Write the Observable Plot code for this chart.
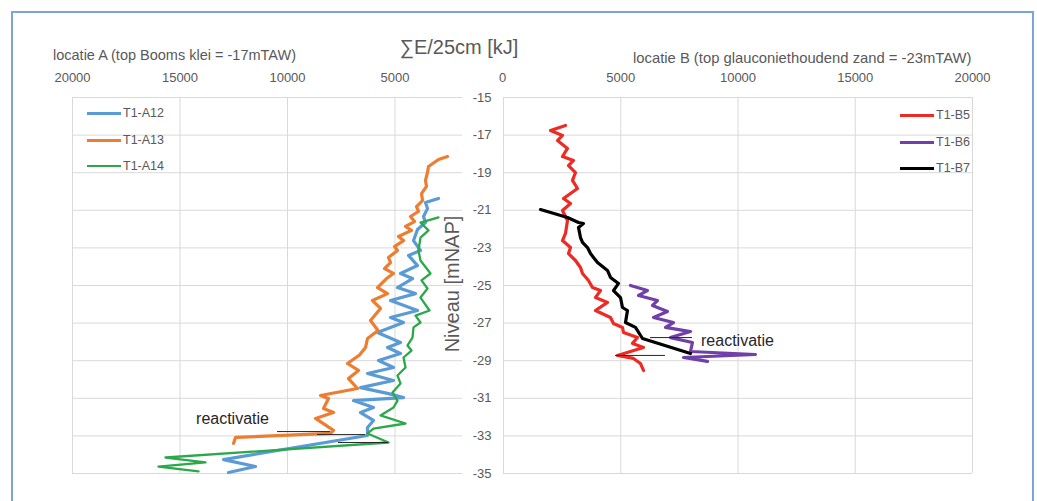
<!DOCTYPE html>
<html><head><meta charset="utf-8">
<script src="https://cdn.jsdelivr.net/npm/d3@7"></script>
<script src="https://cdn.jsdelivr.net/npm/@observablehq/plot@0.6"></script>
<style>
body{margin:0;background:#fff;font-family:"Liberation Sans",Arial,sans-serif;}
#wrap{position:relative;width:1037px;height:501px;overflow:hidden;background:#fff}
#frame{position:absolute;left:11px;top:11px;width:1023px;height:520px;border:2px solid #7aa5d6;box-sizing:border-box}
.pl{position:absolute;left:0;top:0}
.t{position:absolute;color:#595959;white-space:nowrap;line-height:1}
.leg{position:absolute;display:flex;align-items:center;font-size:12.5px;color:#595959;height:16px;line-height:16px}
.leg i{display:inline-block;width:34px;height:0;border-top-style:solid;margin-right:2px}
</style></head>
<body><div id="wrap"><div id="frame"></div></div>
<script>
// ---------- data (E/25cm in kJ vs level in mNAP) ----------
const xTicks = [0, 5000, 10000, 15000, 20000];
const yTicks = [-15, -17, -19, -21, -23, -25, -27, -29, -31, -33, -35];

const levA12 = [-20.37,-20.59,-20.91,-21.33,-21.65,-22.02,-22.61,-23.14,-23.40,-23.94,-24.36,-24.63,-25.11,-25.43,-25.80,-26.33,-26.70,-26.97,-27.50,-28.03,-28.30,-28.62,-28.99,-29.36,-29.68,-30.05,-30.43,-30.74,-30.96,-31.12,-31.49,-31.76,-32.18,-32.55,-32.98,-34.26,-34.63,-34.95];
const eA12   = [2977,3581,3488,3674,3581,3953,4139,3814,4372,3953,4744,4186,4884,4046,5209,3953,5209,4604,5814,4744,5349,4744,5767,5070,6279,5070,6604,5349,4604,6930,6000,6604,6000,6279,6279,12976,11488,12744];

const levA13 = [-18.14,-18.30,-18.67,-18.99,-19.41,-19.73,-20.11,-20.48,-20.80,-21.06,-21.33,-21.60,-21.86,-22.07,-22.39,-22.61,-22.93,-23.14,-23.51,-23.78,-24.10,-24.36,-24.63,-25.11,-25.43,-25.80,-26.22,-26.86,-27.39,-27.82,-28.30,-28.70,-29.15,-29.52,-29.95,-30.48,-30.85,-31.01,-31.54,-31.76,-32.07,-32.71,-32.87,-33.08,-33.40];
const eA13   = [2558,2977,3442,3488,3581,3535,3767,3721,4000,3907,4279,4093,4511,4233,4837,4604,5023,4884,5302,5209,5488,5070,5395,5814,5349,6046,5674,6139,5790,6279,6372,6650,7209,6697,7163,6744,8465,8093,8325,7860,8697,7860,8000,12418,12511];

const levA14 = [-21.38,-21.65,-22.07,-22.45,-23.14,-23.67,-24.36,-24.73,-25.16,-25.64,-26.33,-26.60,-26.97,-27.23,-27.77,-28.19,-28.46,-28.83,-29.36,-29.79,-30.21,-30.69,-31.12,-31.49,-31.91,-32.34,-32.61,-32.87,-33.35,-34.15,-34.41,-34.63,-34.89];
const eA14   = [2977,3814,3442,3814,3907,3814,3349,3767,3488,3814,3395,4046,3814,4139,4186,4418,4233,4604,4511,4884,4744,5116,4884,5070,5674,4511,6000,6279,5302,15674,13814,16000,14139];

const levB5 = [-16.49,-16.76,-17.02,-17.29,-17.71,-18.14,-18.35,-18.62,-18.99,-19.41,-19.84,-20.37,-20.64,-21.01,-21.54,-22.23,-22.61,-22.98,-23.30,-23.67,-24.04,-24.36,-24.73,-25.11,-25.27,-25.64,-25.90,-26.33,-26.70,-27.02,-27.23,-27.50,-27.77,-28.08,-28.30,-28.72,-28.88,-29.15,-29.52];
const eB5   = [2644,2004,2516,2303,2729,2516,2985,2772,3070,2942,3155,2558,2857,2516,2729,2644,2516,2857,2772,3070,3283,3369,3624,3795,4136,3923,4435,3923,4562,4690,5074,5117,5714,5501,5970,4861,5543,5842,5970];

const levB6 = [-25.00,-25.27,-25.53,-25.80,-26.06,-26.38,-26.70,-26.97,-27.23,-27.45,-27.77,-28.03,-28.51,-28.67,-28.83,-29.04];
const eB6   = [5415,6140,5756,6567,6353,6993,6396,7249,6908,7974,7121,8059,7974,10745,7675,8698];

const levB7 = [-20.96,-21.38,-21.65,-21.70,-21.91,-22.45,-22.71,-22.98,-23.30,-23.51,-23.78,-24.20,-24.57,-24.89,-25.27,-25.64,-26.17,-26.33,-26.97,-27.23,-27.82,-28.62];
const eB7   = [1578,2729,3198,3411,3198,3283,3369,3582,3710,3838,4008,4435,4562,4904,4690,4989,5074,5287,5202,5628,5927,7974];

// reactivation markers (level, from E, to E)
const reactLevA = [-32.77, -32.93, -33.35];
const reactFromA = [10465, 8604, 7628];
const reactToA = [8000, 6372, 5302];
const reactLevB = [-27.77, -28.72];
const reactFromB = [6268, 4776];
const reactToB = [8059, 6908];

const seriesA = ["T1-A12", "T1-A13", "T1-A14"];
const seriesB = ["T1-B5", "T1-B6", "T1-B7"];

// ---------- build tables ----------
const tab = (lev, e) => lev.map((level, i) => ({level, E: e[i]}));
const A12 = tab(levA12, eA12), A13 = tab(levA13, eA13), A14 = tab(levA14, eA14);
const B5 = tab(levB5, eB5), B6 = tab(levB6, eB6), B7 = tab(levB7, eB7);
const reactA = reactLevA.map((level, i) => ({level, x1: reactFromA[i], x2: reactToA[i]}));
const reactB = reactLevB.map((level, i) => ({level, x1: reactFromB[i], x2: reactToB[i]}));

const FONT = '"Liberation Sans", Arial, sans-serif';
const GRID = "#d9d9d9";
const colA = ["#5b9bd5", "#ed7d31", "#2aa84a"];
const colB = ["#ee2a24", "#7040a8", "#000000"];
const widthA = [3.2, 3.2, 2.3];
const widthB = [3.2, 3.2, 3.2];

const common = {
  width: 1037, height: 501, marginTop: 97, marginBottom: 28,
  style: {background: "transparent", fontFamily: FONT, fontSize: "13px", color: "#595959", overflow: "visible"}
};

const left = Plot.plot({
  ...common,
  marginLeft: 72, marginRight: 535,
  x: {domain: [20000, 0], axis: "top", ticks: xTicks, tickSize: 0, tickPadding: 16, tickFormat: d => String(d), label: null},
  y: {domain: [-35, -15], axis: null},
  marks: [
    Plot.ruleX(xTicks.filter(d => d > 0), {stroke: GRID}),
    Plot.ruleY(yTicks, {x1: 20000, x2: 1850, stroke: GRID}),
    Plot.line(A12, {x: "E", y: "level", stroke: colA[0], strokeWidth: widthA[0], strokeLinejoin: "round"}),
    Plot.line(A13, {x: "E", y: "level", stroke: colA[1], strokeWidth: widthA[1], strokeLinejoin: "round"}),
    Plot.line(A14, {x: "E", y: "level", stroke: colA[2], strokeWidth: widthA[2], strokeLinejoin: "round"}),
    Plot.ruleY(reactA, {y: "level", x1: "x1", x2: "x2", stroke: "#262626", strokeWidth: 1}),
    Plot.text([{E: 12558, level: -32.07}], {x: "E", y: "level", text: () => "reactivatie", fontSize: 16, fill: "#262626"})
  ]
});

const right = Plot.plot({
  ...common,
  marginLeft: 503, marginRight: 65,
  x: {domain: [0, 20000], axis: "top", ticks: xTicks.filter(d => d > 0), tickSize: 0, tickPadding: 16, tickFormat: d => String(d), label: null},
  y: {domain: [-35, -15], axis: "left", ticks: yTicks, tickSize: 0, tickPadding: 12, tickFormat: d => String(d), label: null},
  marks: [
    Plot.ruleX(xTicks, {stroke: GRID}),
    Plot.ruleY(yTicks, {stroke: GRID}),
    Plot.line(B5, {x: "E", y: "level", stroke: colB[0], strokeWidth: widthB[0], strokeLinejoin: "round"}),
    Plot.line(B6, {x: "E", y: "level", stroke: colB[1], strokeWidth: widthB[1], strokeLinejoin: "round"}),
    Plot.line(B7, {x: "E", y: "level", stroke: colB[2], strokeWidth: widthB[2], strokeLinejoin: "round"}),
    Plot.ruleY(reactB, {y: "level", x1: "x1", x2: "x2", stroke: "#262626", strokeWidth: 1}),
    Plot.text([{E: 9978, level: -27.93}], {x: "E", y: "level", text: () => "reactivatie", fontSize: 16, fill: "#262626"})
  ]
});

const wrap = document.getElementById("wrap");
left.classList.add("pl"); right.classList.add("pl");
left.style.position = "absolute"; right.style.position = "absolute";
left.style.left = "0px"; left.style.top = "0px";
right.style.left = "0px"; right.style.top = "0px";
wrap.appendChild(left);
wrap.appendChild(right);

function addText(txt, x, y, size, anchor) {
  const d = document.createElement("div");
  d.className = "t";
  d.textContent = txt;
  d.style.left = x + "px"; d.style.top = y + "px"; d.style.fontSize = size + "px";
  d.style.transform = anchor === "middle" ? "translate(-50%,-50%)" : "translateY(-50%)";
  wrap.appendChild(d);
  return d;
}
addText("locatie A (top Booms klei = -17mTAW)", 53, 55, 14.5);
addText("∑E/25cm [kJ]", 459, 47, 20, "middle");
addText("locatie B (top glauconiethoudend zand = -23mTAW)", 633, 58, 14.8);
const yl = addText("Niveau [mNAP]", 452, 284, 20, "middle");
yl.style.transform = "translate(-50%,-50%) rotate(-90deg)";

function addLegend(names, colors, widths, x, ys) {
  names.forEach((n, i) => {
    const d = document.createElement("div");
    d.className = "leg";
    d.style.left = x + "px"; d.style.top = (ys[i] - 8) + "px";
    const sw = document.createElement("i");
    sw.style.borderTopColor = colors[i];
    sw.style.borderTopWidth = widths[i] + "px";
    d.appendChild(sw);
    d.appendChild(document.createTextNode(n));
    wrap.appendChild(d);
  });
}
addLegend(seriesA, colA, widthA, 87, [113, 140, 166]);
addLegend(seriesB, colB, widthB, 900, [115, 142, 168]);
</script>
</body></html>
